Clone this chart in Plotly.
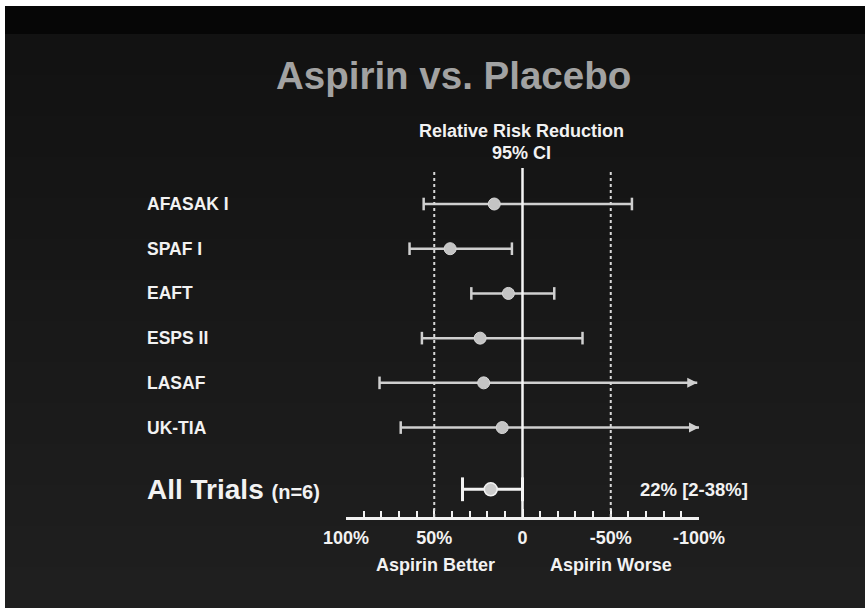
import plotly.graph_objects as go

# ---------------- data ----------------
trials = ["AFASAK I", "SPAF I", "EAFT", "ESPS II", "LASAF", "UK-TIA"]
rrr = [16, 41, 8, 24, 22, 11.5]                 # relative risk reduction (%)
ci_better = [56, 64, 29, 57, 81, 69]            # CI bound on "Aspirin Better" side
ci_worse = [-62, 6, -18, -34, -99, -100]        # CI bound on "Aspirin Worse" side
ci_open_ended = [False, False, False, False, True, True]

pooled_label = "All Trials"
pooled_n = "(n=6)"
pooled_rrr = 18
pooled_ci_better = 34
pooled_ci_worse = 0
pooled_text = "22% [2-38%]"

tick_values = [100, 50, 0, -50, -100]
tick_labels = ["100%", "50%", "0", "-50%", "-100%"]
reference_lines = [50, -50]

# ---------------- geometry ----------------
W, H = 865, 610
ML, MR, MT, MB = 346, 166, 168, 93
PW, PH = W - ML - MR, H - MT - MB
POOLED_Y = 6.38
FONT = "Liberation Sans, Arial, Helvetica, sans-serif"


def fx(px):
    return (px - ML) / PW


def fy(py):
    return (H - MB - py) / PH


fig = go.Figure()

ci_color = "#cfcfcf"
for i, name in enumerate(trials):
    fig.add_trace(go.Scatter(
        x=[ci_better[i], ci_worse[i]], y=[i, i], mode="lines",
        line=dict(color=ci_color, width=2.5), hoverinfo="skip", showlegend=False))
    cap_x = [ci_better[i]] if ci_open_ended[i] else [ci_better[i], ci_worse[i]]
    fig.add_trace(go.Scatter(
        x=cap_x, y=[i] * len(cap_x), mode="markers",
        marker=dict(symbol="line-ns", size=9, line=dict(color=ci_color, width=2.5)),
        hoverinfo="skip", showlegend=False))
    if ci_open_ended[i]:
        fig.add_trace(go.Scatter(
            x=[ci_worse[i]], y=[i], mode="markers",
            marker=dict(symbol="arrow-right", size=10, color=ci_color,
                        line=dict(width=0)),
            hoverinfo="skip", showlegend=False))

fig.add_trace(go.Scatter(
    x=rrr, y=list(range(len(trials))), mode="markers",
    marker=dict(symbol="circle", size=12, color="#c4c4c4",
                line=dict(color="#d8d8d8", width=1)),
    showlegend=False))

# pooled estimate
fig.add_trace(go.Scatter(
    x=[pooled_ci_better, pooled_ci_worse], y=[POOLED_Y, POOLED_Y], mode="lines",
    line=dict(color="#f2f2f2", width=3), hoverinfo="skip", showlegend=False))
fig.add_trace(go.Scatter(
    x=[pooled_ci_better, pooled_ci_worse], y=[POOLED_Y, POOLED_Y], mode="markers",
    marker=dict(symbol="line-ns", size=17, line=dict(color="#f2f2f2", width=3)),
    hoverinfo="skip", showlegend=False))
fig.add_trace(go.Scatter(
    x=[pooled_rrr], y=[POOLED_Y], mode="markers",
    marker=dict(symbol="circle", size=13, color="#cccccc",
                line=dict(color="#f2f2f2", width=1.5)),
    showlegend=False))

# ---------------- background shapes ----------------
shapes = []
band_top, band_bot = 34, 608
n_bands = 14
for k in range(n_bands):
    y0 = band_top + (band_bot - band_top) * k / n_bands
    y1 = band_top + (band_bot - band_top) * (k + 1) / n_bands
    c = int(0x12 + (0x1f - 0x12) * k / (n_bands - 1))
    shapes.append(dict(type="rect", xref="paper", yref="paper",
                       x0=fx(5), x1=fx(W), y0=fy(y1), y1=fy(y0),
                       fillcolor=f"rgb({c},{c},{c})", line=dict(width=0),
                       layer="below"))
shapes.append(dict(type="rect", xref="paper", yref="paper",
                   x0=fx(5), x1=fx(W), y0=fy(34), y1=fy(6),
                   fillcolor="#060606", line=dict(width=0), layer="below"))

for v in reference_lines:
    shapes.append(dict(type="line", xref="x", yref="paper", x0=v, x1=v,
                       y0=0, y1=fy(170), line=dict(color="#d8d8d8", width=2, dash="dot")))
shapes.append(dict(type="line", xref="x", yref="paper", x0=0, x1=0,
                   y0=0, y1=1, line=dict(color="#f4f4f4", width=2.5)))

# ---------------- annotations ----------------
ann = []


def text(x, y, s, size, color="#f2f2f2", xanchor="center", xref="paper", yref="paper"):
    ann.append(dict(x=x, y=y, xref=xref, yref=yref, text=s, showarrow=False,
                    xanchor=xanchor, yanchor="middle",
                    font=dict(family=FONT, size=size, color=color, weight="bold")))


text(fx(453.5), fy(75), "Aspirin vs. Placebo", 38.5, color="#a2a2a2")
text(fx(521.5), fy(131), "Relative Risk Reduction", 18)
text(fx(521.5), fy(153), "95% CI", 18)

for i, name in enumerate(trials):
    ann.append(dict(x=fx(145), y=i, xref="paper", yref="y", text=name,
                    showarrow=False, xanchor="left", yanchor="middle",
                    font=dict(family=FONT, size=17.5, color="#f2f2f2", weight="bold")))

ann.append(dict(x=fx(145), y=POOLED_Y, xref="paper", yref="y",
                text=f"{pooled_label} <span style='font-size:20px'>{pooled_n}</span>",
                showarrow=False, xanchor="left", yanchor="middle",
                font=dict(family=FONT, size=28, color="#f2f2f2", weight="bold")))
ann.append(dict(x=fx(694), y=POOLED_Y, xref="paper", yref="y", text=pooled_text,
                showarrow=False, xanchor="center", yanchor="middle",
                font=dict(family=FONT, size=18.5, color="#f2f2f2", weight="bold")))

text(fx(435.5), fy(565), "Aspirin Better", 18)
text(fx(611), fy(565), "Aspirin Worse", 18)

border = [(0, 0, W, 6), (0, 0, 5, H), (0, 608, W, H)]
for (x0, y0, x1, y1) in border:
    shapes.append(dict(type="rect", xref="paper", yref="paper",
                       x0=fx(x0), x1=fx(x1), y0=fy(y1), y1=fy(y0),
                       fillcolor="white", line=dict(width=0), layer="above"))

fig.update_layout(
    width=W, height=H, autosize=False,
    margin=dict(l=ML, r=MR, t=MT, b=MB, pad=0),
    paper_bgcolor="#181818", plot_bgcolor="rgba(0,0,0,0)",
    shapes=shapes, annotations=ann,
    xaxis=dict(range=[100, -100], showgrid=False, zeroline=False,
               showline=True, linecolor="#f2f2f2", linewidth=2.5,
               ticks="inside", ticklen=8, tickwidth=2, tickcolor="#f2f2f2",
               tickmode="array", tickvals=tick_values, ticktext=tick_labels,
               ticklabelstandoff=3,
               tickfont=dict(family=FONT, size=18, color="#f2f2f2", weight="bold"),
               minor=dict(dtick=10, tick0=0, ticks="inside", ticklen=6,
                          tickwidth=2, tickcolor="#f2f2f2"),
               fixedrange=True),
    yaxis=dict(range=[7.0, -0.805], visible=False, fixedrange=True),
    showlegend=False,
)

fig.write_html("out.html",
               config={"displayModeBar": False, "staticPlot": True},
               post_script="document.body.style.margin='0px';"
                           "document.body.style.overflow='hidden';")
